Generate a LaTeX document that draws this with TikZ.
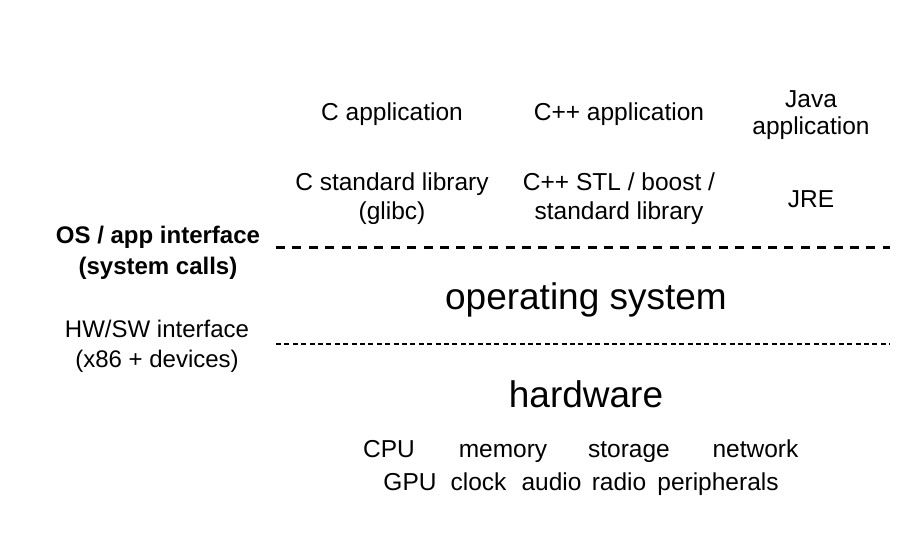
\documentclass[tikz,border=0pt]{standalone}
\usepackage{fontspec}
\setmainfont{Liberation Sans}
\usepackage{tikz}
\usetikzlibrary{positioning}

\begin{document}
\begin{tikzpicture}[
    x=1pt, y=-1pt,
    txt/.style={inner sep=0pt, align=center, font=\fontsize{24.5}{29}\selectfont},
    word/.style={txt, anchor=base},
    bigtxt/.style={inner sep=0pt, align=center, font=\fontsize{37}{42}\selectfont},
    side/.style={txt, font=\fontsize{24}{30}\selectfont},
    osline/.style={line width=3pt, dash pattern=on 9pt off 7.4pt},
    hwline/.style={line width=1.5pt, dash pattern=on 5pt off 3.4pt}
]
\useasboundingbox (0,0) rectangle (910,536);

% --- Aplicaciones ---
\node (capp) [txt] at (392,114) {C application};
\node (cppapp) [txt] at (619,114) {C++ application};
\node (javaapp) [txt, font=\fontsize{24.5}{27}\selectfont] at (811,115) {Java\\application};

% --- Bibliotecas ---
\node (clib) [txt] at (392,199) {C standard library\\(glibc)};
\node (cpplib) [txt] at (619,199) {C++ STL / boost /\\standard library};
\node (jre) [txt] at (811,199.5) {JRE};

% --- Interfaces (izquierda) ---
\node (osapi) [side, font=\fontsize{24}{31}\selectfont\bfseries] at (158,252.5) {OS / app interface\\(system calls)};
\node (hwapi) [side] at (157,346.5) {HW/SW interface\\(x86 + devices)};

% --- Lineas de separacion ---
\coordinate (osL) at (276,247);
\coordinate (osR) at (890,247);
\coordinate (hwL) at (276,344);
\coordinate (hwR) at (890,344);
\draw [osline] (osL) -- (osR);
\draw [hwline] (hwL) -- (hwR);

% --- Capas ---
\node (os) [bigtxt] at (586,299.5) {operating system};
\node (hw) [bigtxt] at (586,394) {hardware};

% --- Componentes (alineados por la linea base) ---
\node (cpu) [word] at (389,457) {CPU};
\node (mem) [word] at (503,457) {memory};
\node (stor) [word] at (629,457) {storage};
\node (net) [word] at (755.5,457) {network};
\node (gpu) [word] at (410,490) {GPU};
\node (clk) [word] at (478.5,490) {clock};
\node (aud) [word] at (551.5,490) {audio};
\node (rad) [word] at (619,490) {radio};
\node (per) [word] at (718,490) {peripherals};

\end{tikzpicture}
\end{document}
